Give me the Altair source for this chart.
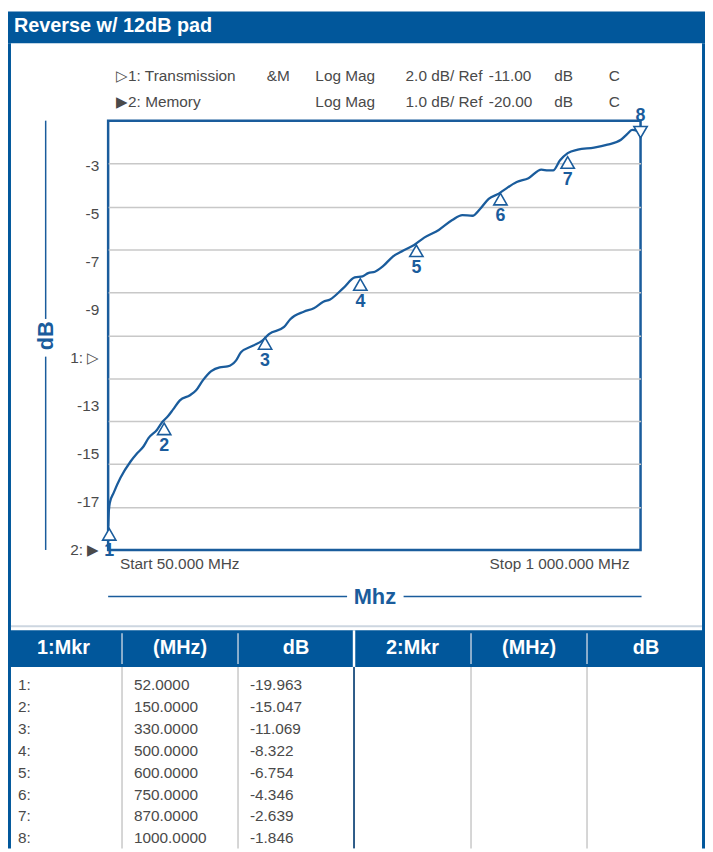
import altair as alt
import pandas as pd

# ---------------- data ----------------
TITLE = "Reverse w/ 12dB pad"

CURVE_MHZ = [50, 51, 53, 60, 72, 90, 101, 113, 122, 137,
             147, 157, 166, 178, 196, 207, 219, 234, 249, 263,
             278, 287, 308, 325, 337, 364, 375, 399, 417, 434,
             446, 470, 490, 504, 514, 526, 540, 558, 576, 596,
             614, 640, 664, 682, 700, 714, 729, 747, 758, 779,
             800, 823, 835, 844, 856, 870, 888, 917, 941, 965,
             976, 985, 994, 1000]
CURVE_DB = [-19.9, -19.3, -18.8, -18.33, -17.64, -16.88, -16.52, -16.18, -15.79, -15.41,
            -15.03, -14.76, -14.45, -14.03, -13.79, -13.56, -13.10, -12.67, -12.49, -12.45,
            -12.18, -11.79, -11.49, -11.25, -10.94, -10.61, -10.25, -9.90, -9.74, -9.44,
            -9.33, -8.79, -8.30, -8.25, -8.10, -8.04, -7.79, -7.33, -7.06, -6.79,
            -6.45, -6.09, -5.63, -5.40, -5.43, -5.10, -4.64, -4.40, -4.20, -3.86,
            -3.68, -3.28, -3.32, -3.32, -2.86, -2.51, -2.35, -2.26, -2.12, -1.89,
            -1.63, -1.43, -1.48, -1.74]

MKR_ID = [1, 2, 3, 4, 5, 6, 7, 8]
MKR_MHZ = [52, 150, 330, 500, 600, 750, 870, 1000]
MKR_DB = [-19.963, -15.047, -11.069, -8.322, -6.754, -4.346, -2.639, -1.846]

X_START, X_STOP = 50, 1000
Y_BOTTOM, Y_TOP = -21, -1
X_GRID = [145, 240, 335, 430, 525, 620, 715, 810, 905]
Y_GRID = [-3, -5, -7, -9, -11, -13, -15, -17, -19]
Y_LABELS = ["-3", "-5", "-7", "-9", "1: \u25b7", "-13", "-15", "-17", "2: \u25b6"]

HEAD_ROW1 = ["\u25b71: Transmission", "&M", "Log Mag", "2.0 dB/ Ref", "-11.00", "dB", "C"]
HEAD_ROW2 = ["\u25b62: Memory", "", "Log Mag", "1.0 dB/ Ref", "-20.00", "dB", "C"]

START_LABEL = "Start 50.000 MHz"
STOP_LABEL = "Stop 1 000.000 MHz"
X_TITLE = "Mhz"
Y_TITLE = "dB"
TABLE_HEAD = ["1:Mkr", "(MHz)", "dB", "2:Mkr", "(MHz)", "dB"]

# ---------------- style ----------------
HEAD_BLUE = "#01579b"
LINE = "#1a5c9c"
GRAY = "#4a4a4a"
TXT = "Liberation Sans, Arial"
SANS = "Liberation Sans, Arial"
TS = 15.5

W, H = 537, 433
PAD = {"left": 101, "top": 110, "right": 65, "bottom": 301}

one = alt.Data(values=[{"k": 0}])


def rect(x1, x2, y1, y2, color):
    return alt.Chart(one).mark_rect(color=color).encode(
        x=alt.value(x1), x2=alt.value(x2), y=alt.value(y1), y2=alt.value(y2))


def rule(x1, x2, y1, y2, color, w):
    return alt.Chart(one).mark_rule(color=color, strokeWidth=w).encode(
        x=alt.value(x1), x2=alt.value(x2), y=alt.value(y1), y2=alt.value(y2))


def label(s, x, y, size=TS, color=GRAY, font=TXT, weight="normal", align="left", angle=0):
    return alt.Chart(one).mark_text(text=s, fontSize=size, color=color, font=font,
                                    fontWeight=weight, align=align, baseline="middle",
                                    angle=angle).encode(x=alt.value(x), y=alt.value(y))


layers = []

# frame / title bar
layers.append(rect(-101, 602, -110, -78, HEAD_BLUE))
layers.append(label(TITLE, -95, -95, size=20, color="white", font=SANS, weight="bold"))
layers.append(rule(-99.5, -99.5, -78, 734, HEAD_BLUE, 3))
layers.append(rule(600.5, 600.5, -78, 734, HEAD_BLUE, 3))
layers.append(rule(-98, 599, 510, 510, "#cdd6e0", 2))

# table header + separators
layers.append(rect(-101, 602, 514, 551, HEAD_BLUE))
for cx in [14, 131, 366, 483]:
    layers.append(rule(cx, cx, 517, 548, "#b9cbdd", 1.5))
    layers.append(rule(cx, cx, 551, 734, "#c8c8c8", 1.5))
layers.append(rule(248, 248, 514, 551, "white", 2.5))
layers.append(rule(248, 248, 551, 734, "#2d5b88", 2))
for t, cx in zip(TABLE_HEAD, [-45, 72.5, 189.5, 307, 424.5, 542.5]):
    layers.append(label(t, cx, 532, size=20, color="white", font=SANS, weight="bold", align="center"))

tab = pd.DataFrame({
    "r": list(range(len(MKR_ID))),
    "n": [f"{i}:" for i in MKR_ID],
    "f": [f"{v:.4f}" for v in MKR_MHZ],
    "d": [f"{v:.3f}" for v in MKR_DB],
})
for col, cx in [("n", -91), ("f", 26), ("d", 143)]:
    layers.append(alt.Chart(tab).mark_text(align="left", baseline="middle", font=TXT,
                                           fontSize=TS, color=GRAY).encode(
        x=alt.value(cx),
        y=alt.Y("r:O", scale=alt.Scale(type="point", range=[569, 724], padding=0), axis=None),
        text=f"{col}:N"))

# header text rows
for row, yy in [(HEAD_ROW1, -45), (HEAD_ROW2, -19)]:
    for t, xx in zip(row, [8, 160, 209, 300, 384, 450, 505]):
        if t:
            layers.append(label(t, xx, yy))

# y labels
ylab = pd.DataFrame({"i": list(range(len(Y_LABELS))), "lab": Y_LABELS})
layers.append(alt.Chart(ylab).mark_text(align="right", baseline="middle", font=TXT,
                                        fontSize=TS, color=GRAY).encode(
    x=alt.value(-9),
    y=alt.Y("i:O", scale=alt.Scale(type="point", range=[46, 433], padding=0), axis=None),
    text="lab:N"))

# axis titles
layers.append(rule(-63, -63, 0, 200, LINE, 1.5))
layers.append(rule(-63, -63, 238, 433, LINE, 1.5))
layers.append(label(Y_TITLE, -63, 217, size=22, color=LINE, font=SANS, weight="bold",
                    align="center", angle=270))
layers.append(rule(0, 241, 480, 480, LINE, 1.5))
layers.append(rule(298, 538, 480, 480, LINE, 1.5))
layers.append(label(X_TITLE, 269, 481, size=22, color=LINE, font=SANS, weight="bold", align="center"))
layers.append(label(START_LABEL, 12, 447))
layers.append(label(STOP_LABEL, 526, 447, align="right"))

# plot
xs = alt.Scale(domain=[X_START, X_STOP], nice=False, zero=False)
ys = alt.Scale(domain=[Y_BOTTOM, Y_TOP], nice=False, zero=False)
curve_df = pd.DataFrame({"mhz": CURVE_MHZ, "db": CURVE_DB})
curve = alt.Chart(curve_df).mark_line(color=LINE, strokeWidth=2.3, interpolate="monotone").encode(
    x=alt.X("mhz:Q", scale=xs, axis=alt.Axis(values=X_GRID, grid=True, labels=False, ticks=False,
                                             domain=False, title=None)),
    y=alt.Y("db:Q", scale=ys, axis=alt.Axis(values=Y_GRID, grid=True, labels=False, ticks=False,
                                            domain=False, title=None)))
layers.append(curve)

mk = pd.DataFrame({"id": MKR_ID, "mhz": MKR_MHZ, "db": MKR_DB})
last = MKR_ID[-1]
enc = dict(x=alt.X("mhz:Q", scale=xs, axis=None), y=alt.Y("db:Q", scale=ys, axis=None))
up = alt.Chart(mk).transform_filter(f"datum.id < {last}")
down = alt.Chart(mk).transform_filter(f"datum.id == {last}")
layers.append(up.mark_point(shape="triangle-up", size=180, filled=True, fill="white", stroke=LINE,
                            strokeWidth=1.6, opacity=1, yOffset=6.7).encode(**enc))
layers.append(up.mark_text(font=SANS, fontWeight="bold", fontSize=18, color=LINE, dy=24,
                           baseline="middle").encode(text="id:N", **enc))
layers.append(down.mark_point(shape="triangle-down", size=180, filled=True, fill="white", stroke=LINE,
                              strokeWidth=1.6, opacity=1, yOffset=-6.7).encode(**enc))
layers.append(down.mark_text(font=SANS, fontWeight="bold", fontSize=18, color=LINE, dy=-23,
                             baseline="middle").encode(text="id:N", **enc))

chart = alt.layer(*layers).resolve_scale(y="independent").properties(
    width=W, height=H, padding=PAD, autosize=alt.AutoSizeParams(type="none"),
    background="white"
).configure_view(stroke=LINE, strokeWidth=2.5).configure_axis(gridColor="#c8c8c8", gridWidth=1.5)

chart.save("out.html", embed_options={"renderer": "svg", "actions": False})
